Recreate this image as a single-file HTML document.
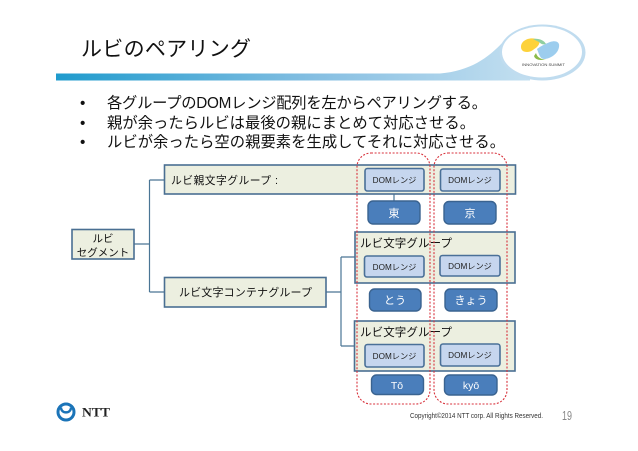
<!DOCTYPE html>
<html><head><meta charset="utf-8"><style>
html,body{margin:0;padding:0;background:#fff;width:638px;height:451px;overflow:hidden}
svg{display:block}
text{font-family:"Liberation Sans","Noto Sans CJK JP",sans-serif;fill:#111}
.g{fill:#ecefe0;stroke:#4a6f92;stroke-width:1.6}
.d{fill:#c6d6ee;stroke:#4a7098;stroke-width:1.6}
.b{fill:#4a7ebb;stroke:#3a6390;stroke-width:1.4}
.l{fill:none;stroke:#4a7595;stroke-width:1.2}
.r{fill:none;stroke:#d8323c;stroke-width:1.1;stroke-dasharray:2 1.6}
.dt{font-size:8.2px;fill:#222;text-anchor:middle}
.wt{font-size:11px;fill:#fff;text-anchor:middle}
</style></head><body>
<svg width="638" height="451" viewBox="0 0 638 451" xmlns="http://www.w3.org/2000/svg">
<defs><linearGradient id="bar" x1="0" x2="1" y1="0" y2="0"><stop offset="0" stop-color="#1f9bcd"/><stop offset=".55" stop-color="#86bfe2"/><stop offset="1" stop-color="#c3dff0"/></linearGradient></defs>
<path d="M56 73.5H440C470 71 488 58 503 42L530 70V80.500H56Z" fill="url(#bar)"/>
<ellipse cx="542.500" cy="52.500" rx="43" ry="28" fill="#c0dcef"/>
<ellipse cx="542" cy="52" rx="40" ry="25.500" fill="#fff"/>
<path d="M521 47C521 40 530 37 536 39C541 40 540 44 537 47C533 50 531 52 527 52C523 52 521 50 521 47Z" fill="#fdd23a"/>
<path d="M537 49C541 46 545 44 550 42C556 40 560 42 559 47C558 54 550 59 544 59C540 59 539 54 537 49Z" fill="#9ccdee"/>
<path d="M536 53C537 57 541 60 546 59C541 61 535 60 534 56Z" fill="#8dbb4a"/>
<path d="M533 39C538 38 544 40 546 44C543 45 541 44 539 42Z" fill="#8fcfa0"/>
<text x="522" y="66" font-size="3.4" textLength="43" lengthAdjust="spacingAndGlyphs" style="fill:#444">INNOVATION SUMMIT</text>

<text x="81" y="56" font-size="21" textLength="170" font-weight="400">ルビのペアリング</text>

<g font-size="15.300">
<text x="80" y="108">•</text>
<text x="107" y="108" textLength="380">各グループのDOMレンジ配列を左からペアリングする。</text>
<text x="80" y="128">•</text>
<text x="107" y="128" textLength="368">親が余ったらルビは最後の親にまとめて対応させる。</text>
<text x="80" y="147">•</text>
<text x="107" y="147" textLength="398">ルビが余ったら空の親要素を生成してそれに対応させる。</text>
</g>

<path class="l" d="M134 244H149.500M149.500 180V292M149.500 180H164M149.500 292H164M326 292H341M341 257V346M341 257H355M341 346H355M394 191V201"/>

<rect class="g" x="72" y="229.500" width="62" height="29.500"/>
<text x="103" y="242" font-size="10.500" text-anchor="middle">ルビ</text>
<text x="103" y="256" font-size="10.500" text-anchor="middle">セグメント</text>

<rect class="g" x="164.500" y="165" width="351" height="29"/>
<text x="171" y="184" font-size="10.800" textLength="107">ルビ親文字グループ :</text>

<rect class="g" x="164.500" y="277.500" width="161.500" height="29.500"/>
<text x="179" y="296" font-size="11" textLength="133">ルビ文字コンテナグループ</text>

<rect class="g" x="355" y="232" width="160" height="51"/>
<text x="360" y="247" font-size="11.500" textLength="92">ルビ文字グループ</text>
<rect class="g" x="354.500" y="321" width="160.500" height="50"/>
<text x="360" y="336" font-size="11.500" textLength="92">ルビ文字グループ</text>

<rect class="d" x="365" y="168.500" width="59" height="22.500" rx="2.500"/>
<text class="dt" x="394.500" y="183">DOMレンジ</text>
<rect class="d" x="440.500" y="169" width="59.500" height="22" rx="2.500"/>
<text class="dt" x="470" y="183">DOMレンジ</text>
<rect class="d" x="364.500" y="256" width="59.500" height="21" rx="2.500"/>
<text class="dt" x="394.500" y="270">DOMレンジ</text>
<rect class="d" x="440" y="255.500" width="60" height="20.500" rx="2.500"/>
<text class="dt" x="470" y="269">DOMレンジ</text>
<rect class="d" x="365" y="344.500" width="59" height="22.500" rx="2.500"/>
<text class="dt" x="394.500" y="359">DOMレンジ</text>
<rect class="d" x="440.500" y="344" width="59.500" height="22" rx="2.500"/>
<text class="dt" x="470" y="358">DOMレンジ</text>

<rect class="b" x="368" y="201" width="52" height="23" rx="5"/>
<text class="wt" x="394" y="217">東</text>
<rect class="b" x="444" y="201.500" width="52" height="22.500" rx="5"/>
<text class="wt" x="470" y="217">京</text>
<rect class="b" x="369.500" y="289" width="51.500" height="22" rx="5"/>
<text class="wt" x="395" y="304">とう</text>
<rect class="b" x="445" y="289" width="52" height="22" rx="5"/>
<text class="wt" x="471" y="304">きょう</text>
<rect class="b" x="371.500" y="375" width="52" height="19.500" rx="5"/>
<text class="wt" x="397" y="389" style="font-size:10.500px">Tō</text>
<rect class="b" x="444.500" y="375" width="52.500" height="20" rx="5"/>
<text class="wt" x="471" y="389" style="font-size:10.500px">kyō</text>

<rect class="r" x="357" y="153" width="73" height="251" rx="14"/>
<rect class="r" x="434" y="153" width="73" height="251" rx="14"/>

<circle cx="66" cy="412" r="8" fill="none" stroke="#1b74b8" stroke-width="3"/>
<path d="M61 407.500C61 414 71 414 71 407.500" stroke="#1b74b8" stroke-width="2.400" fill="none"/>
<text x="82" y="416.500" font-size="13" font-weight="700" textLength="28" lengthAdjust="spacingAndGlyphs" style="font-family:'Liberation Serif',serif;fill:#222">NTT</text>

<text x="410" y="418" font-size="7" textLength="133" lengthAdjust="spacingAndGlyphs" style="fill:#333">Copyright©2014  NTT corp. All Rights Reserved.</text>
<text x="562" y="420" font-size="13" textLength="10" lengthAdjust="spacingAndGlyphs" style="fill:#888">19</text>
</svg>
</body></html>
